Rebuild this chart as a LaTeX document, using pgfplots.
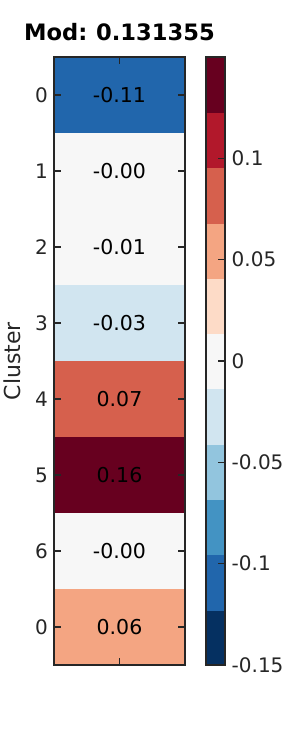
\documentclass[border=0pt]{standalone}
\usepackage{pgfplots}
\pgfplotsset{compat=1.18}
\usepackage{fontspec}
\setmainfont{DejaVu Sans}
\definecolor{c0}{RGB}{5,48,97}
\definecolor{c1}{RGB}{33,102,172}
\definecolor{c2}{RGB}{67,147,195}
\definecolor{c3}{RGB}{146,197,222}
\definecolor{c4}{RGB}{209,229,240}
\definecolor{c5}{RGB}{247,247,247}
\definecolor{c6}{RGB}{253,219,199}
\definecolor{c7}{RGB}{244,165,130}
\definecolor{c8}{RGB}{214,96,77}
\definecolor{c9}{RGB}{178,24,43}
\definecolor{c10}{RGB}{103,0,31}
\definecolor{fr}{RGB}{38,38,38}
\pgfplotsset{
  hb/.style={xbar, bar width=1, bar shift=0pt, draw=none, fill=#1},
  cb/.style={xbar, bar width=0.0272727, bar shift=0pt, draw=#1, line width=0.3pt, fill=#1},
}
\begin{document}
\begin{tikzpicture}[x=1pt,y=1pt]
\path[use as bounding box] (0,0) rectangle (300,750);
\begin{axis}[
  at={(54pt,85pt)}, anchor=south west,
  scale only axis, width=131pt, height=608pt,
  xmin=0, xmax=1, ymin=-0.5, ymax=7.5, y dir=reverse,
  axis on top,
  axis line style={line width=1.5pt, color=fr},
  tick align=inside, major tick length=7pt,
  tick style={line width=1.2pt, color=fr},
  xtick={0.5}, xticklabels={}, xtick pos=both,
  ytick={0,1,2,3,4,5,6,7}, yticklabels={0,1,2,3,4,5,6,0},
  ytick pos=both, yticklabel pos=left,
  yticklabel style={font=\fontsize{20}{24}\selectfont, text=fr, inner xsep=6pt, inner ysep=0pt},
  title={Mod:\hspace{-0.08em} 0.131355},
  title style={font=\bfseries\fontsize{22.6}{27}\selectfont, at={(axis description cs:0.5,1)}, anchor=base, yshift=11pt, inner sep=0pt},
  ylabel={Cluster},
  every axis y label/.style={at={(axis description cs:-0.317,0.5)}, rotate=90, anchor=center, font=\fontsize{22}{26}\selectfont, text=fr},
]
\addplot[hb=c1] coordinates {(1,0)};
\addplot[hb=c5] coordinates {(1,1)};
\addplot[hb=c5] coordinates {(1,2)};
\addplot[hb=c4] coordinates {(1,3)};
\addplot[hb=c8] coordinates {(1,4)};
\addplot[hb=c10] coordinates {(1,5)};
\addplot[hb=c5] coordinates {(1,6)};
\addplot[hb=c7] coordinates {(1,7)};
\addplot[only marks, mark=*, mark size=0pt, point meta=explicit symbolic,
  nodes near coords, nodes near coords align=center,
  every node near coord/.append style={font=\fontsize{20.5}{24}\selectfont, text=black, inner sep=0pt}]
  coordinates {(0.5,0)[-0.11] (0.5,1)[-0.00] (0.5,2)[-0.01] (0.5,3)[-0.03] (0.5,4)[0.07] (0.5,5)[0.16] (0.5,6)[-0.00] (0.5,7)[0.06]};
\end{axis}
\begin{axis}[
  at={(206pt,85pt)}, anchor=south west,
  scale only axis, width=19pt, height=608pt,
  xmin=0, xmax=1, ymin=-0.15, ymax=0.15,
  axis on top,
  axis line style={line width=1.5pt, color=fr},
  tick align=inside, major tick length=7pt,
  tick style={line width=1.2pt, color=fr},
  xtick=\empty,
  ytick={-0.15,-0.1,-0.05,0,0.05,0.1}, yticklabels={-0.15,-0.1,-0.05,0,0.05,0.1},
  ytick pos=right, yticklabel pos=right,
  yticklabel style={font=\fontsize{20}{24}\selectfont, text=fr, inner xsep=6.5pt, inner ysep=0pt},
]
\addplot[cb=c0] coordinates {(1,-0.136364)};
\addplot[cb=c1] coordinates {(1,-0.109091)};
\addplot[cb=c2] coordinates {(1,-0.081818)};
\addplot[cb=c3] coordinates {(1,-0.054545)};
\addplot[cb=c4] coordinates {(1,-0.027273)};
\addplot[cb=c5] coordinates {(1,0)};
\addplot[cb=c6] coordinates {(1,0.027273)};
\addplot[cb=c7] coordinates {(1,0.054545)};
\addplot[cb=c8] coordinates {(1,0.081818)};
\addplot[cb=c9] coordinates {(1,0.109091)};
\addplot[cb=c10] coordinates {(1,0.136364)};
\end{axis}
\end{tikzpicture}
\end{document}
